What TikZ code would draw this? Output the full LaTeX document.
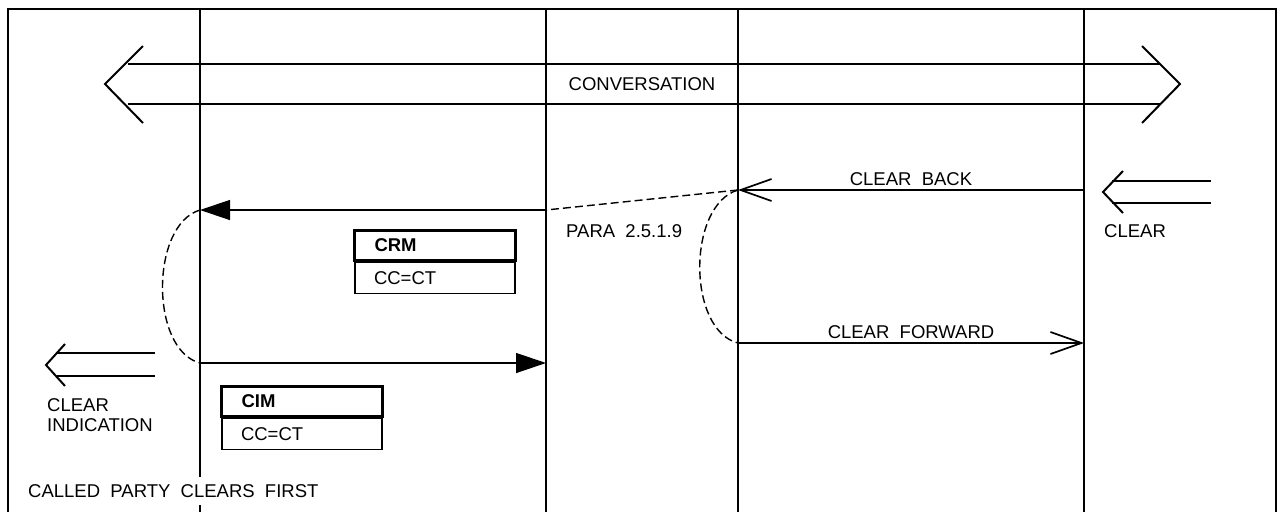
\documentclass[tikz,border=0pt]{standalone}
\usepackage{fontspec}
\setmainfont{Liberation Sans}
\usetikzlibrary{arrows.meta,positioning}

\begin{document}
\begin{tikzpicture}[x=1pt,y=-1pt,
  every node/.style={font=\fontsize{18.5}{20}\selectfont, inner sep=0pt},
  frame/.style={line width=2pt},
  msg/.style={line width=1.3pt},
  fwd/.style={msg, -{Triangle[length=30pt,width=20pt]}},
  ack/.style={msg, -{Straight Barb[length=31pt,width=22pt,line width=1.7pt]}},
  link/.style={line width=1.4pt, dash pattern=on 8pt off 4pt},
  namebox/.style={draw, line width=3pt, minimum height=30pt, text width=121pt, inner xsep=20pt, align=left, font=\bfseries\fontsize{18.5}{20}\selectfont},
  fieldbox/.style={draw, line width=1.3pt, minimum height=31pt, text width=122pt, inner xsep=19pt, align=left}]
\useasboundingbox (0,0) rectangle (1281,512);
\draw[frame] (8,512) -- (8,9) -- (1276,9) -- (1276,512);
\draw[frame] (200,9) -- (200,512);
\draw[frame] (546,9) -- (546,512);
\draw[frame] (738,9) -- (738,512);
\draw[frame] (1084,9) -- (1084,512);
\coordinate (convL) at (105,84);
\coordinate (convR) at (1180,84);
\draw[frame] (143,46) -- (convL) -- (143,123);
\draw[frame] (1142,46) -- (convR) -- (1142,123);
\draw[frame] (128,64) -- (1160,64) (128,104) -- (1160,104);
\node (conv) at (642,84) {CONVERSATION};
\coordinate (cbR) at (1084,190);
\coordinate (cbL) at (738,190);
\coordinate (crmR) at (546,210);
\coordinate (crmL) at (200,210);
\coordinate (cimL) at (200,363);
\coordinate (cimR) at (546,363);
\coordinate (cfL) at (738,343);
\coordinate (cfR) at (1084,343);
\draw[ack] (cbR) -- node[above=4pt] (cbtxt) {CLEAR\ \ BACK} (cbL);
\draw[link] (cbL) -- (crmR);
\draw[fwd] (crmR) -- (crmL);
\draw[link] (crmL) .. controls (150,225) and (150,350) .. (cimL);
\draw[fwd] (cimL) -- (cimR);
\draw[link] (cbL) .. controls (687,205) and (687,330) .. (cfL);
\draw[ack] (cfL) -- node[above=4pt] (cftxt) {CLEAR\ \ FORWARD} (cfR);
\node (para) [anchor=west] at (566,231) {PARA\ \ 2.5.1.9};
\node[namebox, anchor=north west] (crm) at (353,229) {CRM};
\node[fieldbox, below=0pt of crm] (crmpar) {CC=CT};
\node[namebox, anchor=north west] (cim) at (220,385) {CIM};
\node[fieldbox, below=0pt of cim] (cimpar) {CC=CT};
\coordinate (clrtip) at (1103,192);
\draw[frame] (1123,171) -- (clrtip) -- (1123,213);
\draw[frame] (1112,181) -- (1211,181) (1112,203) -- (1211,203);
\node (clr) [anchor=west] at (1104,231) {CLEAR};
\coordinate (indtip) at (46,365);
\draw[frame] (65,344) -- (indtip) -- (65,386);
\draw[frame] (57,353) -- (155,353) (57,376) -- (155,376);
\node (ind) [anchor=north west, align=left] at (47,398.5) {CLEAR\\INDICATION};
\node (called) [anchor=west, fill=white, inner ysep=7pt] at (28,491) {CALLED\ \ PARTY\ \ CLEARS\ \ FIRST};
\end{tikzpicture}
\end{document}
